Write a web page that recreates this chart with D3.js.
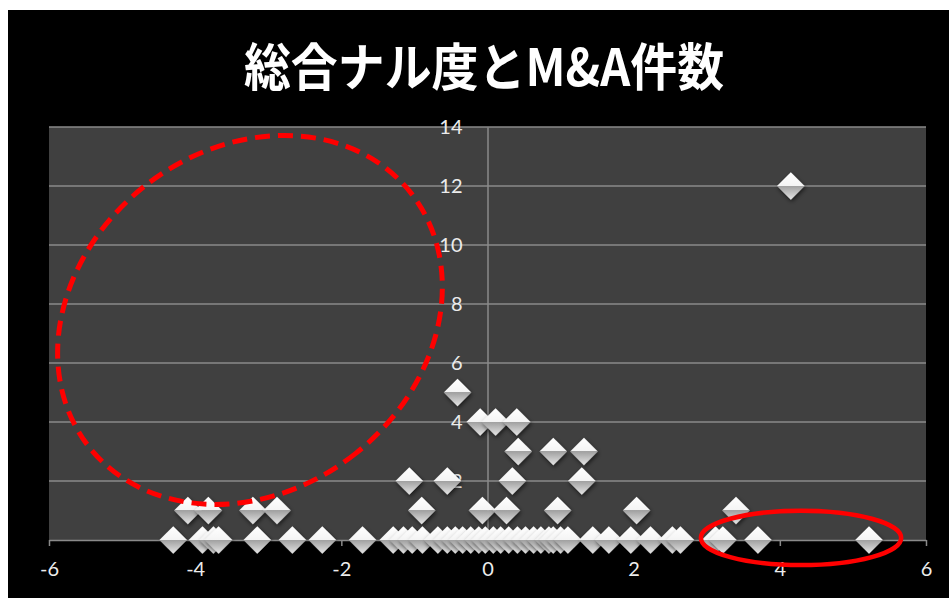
<!DOCTYPE html>
<html><head><meta charset="utf-8">
<script src="https://cdn.jsdelivr.net/npm/d3@7/dist/d3.min.js"></script>
<style>
html,body{margin:0;padding:0;background:#fff;}
svg{display:block;}
</style></head>
<body>
<script>
// ---- data ----
const titleText = "総合ナル度とM&A件数";
const xTicks = [-6,-4,-2,0,2,4,6];
const yTicks = [0,2,4,6,8,10,12,14];
// 総合ナル度 (x) and M&A件数 (y)
const xValues = [
  4.15,
  -0.41,
  -0.10, 0.11, 0.40,
  0.42, 0.90, 1.32,
  -1.07, -0.55, 0.34, 1.29,
  -4.10, -3.82, -3.21, -2.88, -0.90, -0.07, 0.26, 0.96, 2.04, 3.40,
  -4.30, -3.90, -3.75, -3.68, -3.15, -2.67, -2.26, -1.71, -1.29, -1.15, -1.03, -0.89,
  -0.68, -0.55, -0.44, -0.34, -0.23, -0.12, -0.03, 0.08, 0.18, 0.29, 0.41, 0.52,
  0.63, 0.73, 0.84, 0.90, 1.00, 1.10, 1.44, 1.66, 1.96, 2.23, 2.53, 2.64, 3.12, 3.22, 3.70, 5.22
];
const yValues = [
  12,
  5,
  4, 4, 4,
  3, 3, 3,
  2, 2, 2, 2,
  1, 1, 1, 1, 1, 1, 1, 1, 1, 1,
  0, 0, 0, 0, 0, 0, 0, 0, 0, 0, 0, 0,
  0, 0, 0, 0, 0, 0, 0, 0, 0, 0, 0, 0,
  0, 0, 0, 0, 0, 0, 0, 0, 0, 0, 0, 0, 0, 0, 0, 0
];
// annotation ellipses (in data units): cx, cy, rx, ry, rotation(deg)
const dashedEllipse = [-3.25, 7.46, 2.33, 6.95, 51.6];
const solidEllipse = [4.29, 0.07, 1.37, 0.92, 0];

// ---- drawing ----
const W = 949, H = 598;
const svg = d3.select("body").append("svg").attr("width", W).attr("height", H);
svg.append("rect").attr("x", 8).attr("y", 10).attr("width", W - 8).attr("height", H - 10).attr("fill", "#000");

const plot = {left: 49, right: 926, top: 127, bottom: 540};
const x = d3.scaleLinear().domain([-6, 6]).range([plot.left, plot.right]);
const y = d3.scaleLinear().domain([0, 14]).range([plot.bottom, plot.top]);

const defs = svg.append("defs");
const gTop = defs.append("linearGradient").attr("id", "gTop").attr("x1", 0).attr("y1", 0).attr("x2", 0).attr("y2", 1);
gTop.append("stop").attr("offset", 0).attr("stop-color", "#ffffff");
gTop.append("stop").attr("offset", 1).attr("stop-color", "#f4f4f4");
const gBot = defs.append("linearGradient").attr("id", "gBot").attr("x1", 0).attr("y1", 0).attr("x2", 0).attr("y2", 1);
gBot.append("stop").attr("offset", 0).attr("stop-color", "#a0a0a0");
gBot.append("stop").attr("offset", 1).attr("stop-color", "#e6e6e6");
const sh = defs.append("filter").attr("id", "sh").attr("x", "-50%").attr("y", "-50%").attr("width", "200%").attr("height", "200%");
sh.append("feDropShadow").attr("dx", 1).attr("dy", 2).attr("stdDeviation", 2).attr("flood-color", "#000").attr("flood-opacity", 0.6);

svg.append("rect").attr("x", plot.left).attr("y", plot.top)
  .attr("width", plot.right - plot.left).attr("height", plot.bottom - plot.top).attr("fill", "#404040");

// horizontal gridlines
svg.append("g").selectAll("line").data(yTicks.filter(d => d > 0)).join("line")
  .attr("x1", plot.left).attr("x2", plot.right)
  .attr("y1", d => y(d)).attr("y2", d => y(d))
  .attr("stroke", "#8a8a8a").attr("stroke-width", 1.5);

const fmt = d => String(d);
// vertical axis at x = 0
const yAxis = d3.axisLeft(y).tickValues(yTicks).tickFormat(fmt).tickSize(0).tickPadding(25);
const gy = svg.append("g").attr("transform", `translate(${x(0)},0)`).call(yAxis);
gy.select(".domain").attr("stroke", "#8a8a8a").attr("stroke-width", 1.5);
gy.selectAll("text").attr("fill", "#ececec").style("font-family", "Lato, 'Open Sans', sans-serif").style("font-size", "20px");

// x axis
const xAxis = d3.axisBottom(x).tickValues(xTicks).tickFormat(fmt).tickSize(6).tickSizeOuter(0).tickPadding(16);
const gx = svg.append("g").attr("transform", `translate(0,${plot.bottom})`).call(xAxis);
gx.select(".domain").attr("stroke", "#8a8a8a").attr("stroke-width", 1.5);
gx.selectAll(".tick line").attr("stroke", "#8a8a8a").attr("stroke-width", 1.5);
gx.selectAll("text").attr("fill", "#ececec").style("font-family", "Lato, 'Open Sans', sans-serif").style("font-size", "20px");

// markers
const pts = xValues.map((v, i) => ({x: v, y: yValues[i]}));
const s = 13.8;
const mk = svg.append("g").selectAll("g").data(pts).join("g")
  .attr("transform", d => `translate(${x(d.x)},${y(d.y)})`)
  .attr("filter", "url(#sh)");
mk.append("path").attr("d", `M${-s},0L0,${-s}L${s},0Z`).attr("fill", "url(#gTop)");
mk.append("path").attr("d", `M${-s},0L0,${s}L${s},0Z`).attr("fill", "url(#gBot)");

// annotations
function ell(e, dashed) {
  const cx = x(e[0]), cy = y(e[1]);
  const el = svg.append("ellipse")
    .attr("cx", cx).attr("cy", cy)
    .attr("rx", x(e[0] + e[2]) - cx).attr("ry", cy - y(e[1] + e[3]))
    .attr("transform", `rotate(${e[4]},${cx},${cy})`)
    .attr("fill", "none").attr("stroke", "#ff0000");
  if (dashed) el.attr("stroke-width", 5).attr("stroke-dasharray", "15,8");
  else el.attr("stroke-width", 4.5);
}
ell(dashedEllipse, true);
ell(solidEllipse, false);

// title
svg.append("text").attr("transform", "translate(484,86) scale(0.92,1)").attr("text-anchor", "middle")
  .attr("fill", "#fff").style("font-family", "'Noto Sans CJK JP', sans-serif")
  .style("font-weight", "bold").style("font-size", "51px").text(titleText);
</script>
</body></html>
